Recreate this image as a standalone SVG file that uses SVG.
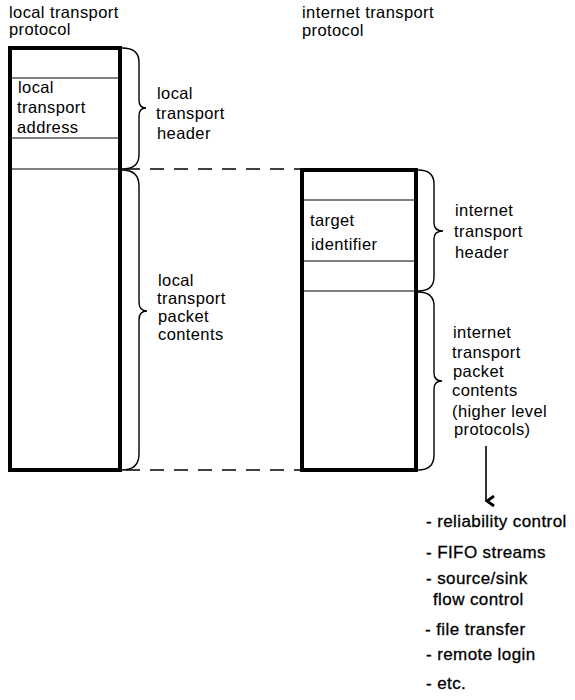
<svg xmlns="http://www.w3.org/2000/svg" width="575" height="700" viewBox="0 0 575 700">
<style>
text{font-family:"Liberation Sans",Arial,sans-serif;font-size:16.5px;letter-spacing:0.4px;fill:#000}
.box{fill:none;stroke:#000;stroke-width:4}
.div{stroke:#000;stroke-width:1}
.brace{fill:none;stroke:#000;stroke-width:1.4}
.dash{stroke:#000;stroke-width:1.3;stroke-dasharray:14 10}
.list text{font-size:17px;stroke:#000;stroke-width:0.3}
</style>
<defs>
<marker id="ah" markerWidth="14" markerHeight="14" refX="6" refY="11" orient="auto" markerUnits="userSpaceOnUse">
<path d="M1,3 L6,10 L11,3" fill="none" stroke="#000" stroke-width="2.8"/>
</marker>
</defs>
<rect width="575" height="700" fill="#fff"/>
<g id="title-local"><text x="9" y="18">local transport</text><text x="9" y="35">protocol</text></g>
<g id="title-internet"><text x="302" y="18">internet transport</text><text x="302" y="36">protocol</text></g>
<g id="local-packet">
<rect class="box" x="10" y="48" width="110" height="422"/>
<line class="div" x1="12" y1="78" x2="118" y2="78"/>
<line class="div" x1="12" y1="138" x2="118" y2="138"/>
<line class="div" x1="12" y1="169" x2="118" y2="169"/>
<text x="18" y="93">local</text><text x="17" y="113">transport</text><text x="17" y="133">address</text>
</g>
<g id="internet-packet">
<rect class="box" x="302" y="170" width="114" height="300"/>
<line class="div" x1="304" y1="200" x2="414" y2="200"/>
<line class="div" x1="304" y1="261" x2="414" y2="261"/>
<line class="div" x1="304" y1="291" x2="414" y2="291"/>
<text x="310" y="226">target</text><text x="311" y="250">identifier</text>
</g>
<g id="local-header-label">
<path class="brace" d="M122,48 Q139,48 139,62 L139,100 Q139,108 146,108 Q139,108 139,116 L139,155 Q139,169 122,169"/>
<text x="157" y="99">local</text><text x="156" y="119">transport</text><text x="157" y="139">header</text>
</g>
<g id="local-contents-label">
<path class="brace" d="M122,170 Q139,170 139,186 L139,302 Q139,311 147,311 Q139,311 139,320 L139,454 Q139,470 122,470"/>
<text x="158" y="286">local</text><text x="157" y="304">transport</text><text x="158" y="322">packet</text><text x="158" y="340">contents</text>
</g>
<g id="internet-header-label">
<path class="brace" d="M418,170 Q434,170 434,184 L434,223 Q434,231 443,231 Q434,231 434,239 L434,277 Q434,291 418,291"/>
<text x="455" y="216">internet</text><text x="454" y="237">transport</text><text x="455" y="258">header</text>
</g>
<g id="internet-contents-label">
<path class="brace" d="M418,292 Q434,292 434,306 L434,373 Q434,381 442,381 Q434,381 434,389 L434,455 Q434,470 418,470"/>
<text x="453" y="338">internet</text><text x="452" y="358">transport</text><text x="453" y="377">packet</text><text x="452" y="396">contents</text><text x="452" y="417">(higher level</text><text x="454" y="435">protocols)</text>
</g>
<g id="connectors">
<line class="dash" x1="126" y1="169" x2="300" y2="169"/>
<line class="dash" x1="126" y1="470" x2="300" y2="470"/>
<line x1="486" y1="446" x2="486" y2="501" stroke="#000" stroke-width="1.6" marker-end="url(#ah)"/>
</g>
<g id="services" class="list">
<text x="426" y="527">- reliability control</text>
<text x="426" y="558">- FIFO streams</text>
<text x="426" y="584">- source/sink</text>
<text x="433" y="605">flow control</text>
<text x="425" y="635">- file transfer</text>
<text x="426" y="660">- remote login</text>
<text x="426" y="689">- etc.</text>
</g>
</svg>
